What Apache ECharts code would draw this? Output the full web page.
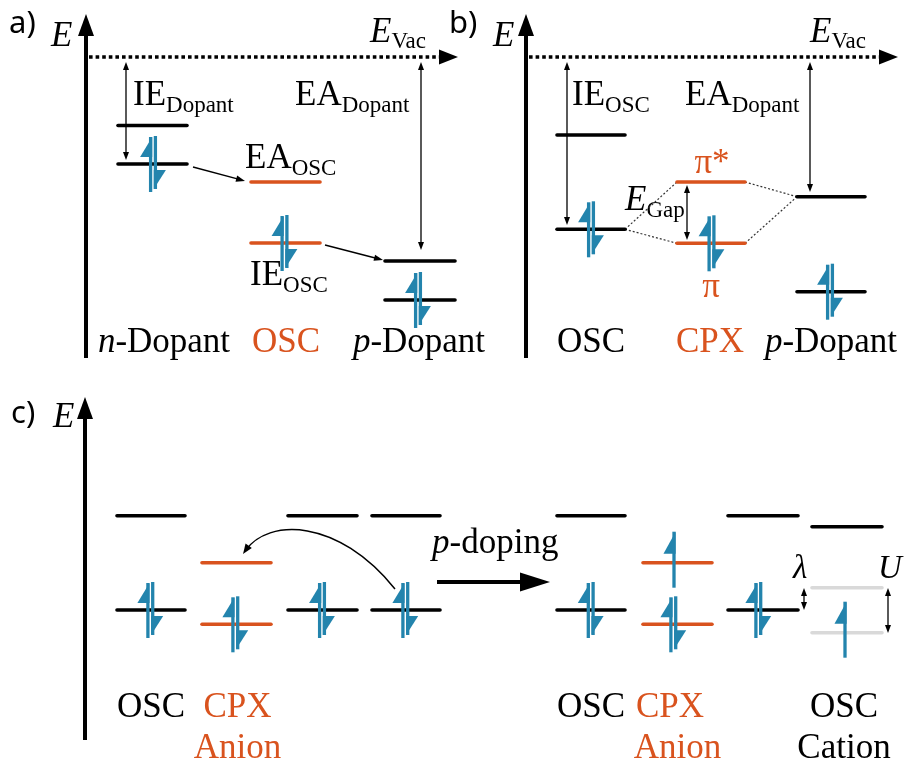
<!DOCTYPE html>
<html><head><meta charset="utf-8">
<script src="https://cdn.jsdelivr.net/npm/echarts@6/dist/echarts.min.js"></script>
<style>html,body{margin:0;padding:0;background:#fff}#c{width:909px;height:764px}</style>
</head><body><div id="c"></div>
<script>
// ---------------- Data (diagram units: x position, energy position measured downward) -------------
// energy levels [xStart, xEnd, E]
const levelsBlack = [
  [118,187,125.5],[118,187,164],[385,455,261],[385,455,300],
  [557,625,135],[557,625,229.3],[797,865,196.7],[797,865,291.7],
  [117,185,515.7],[117,185,610],[288,357,515.7],[288,357,610],[372,440,515.7],[372,440,610],
  [557,625,515.7],[557,625,610],[728,798,515.7],[728,798,610],[812,882,526.7]
];
const levelsOrange = [
  [251,320,182],[251,320,243],[677,745,182],[677,745,243.3],
  [202,271,562.7],[202,271,624.3],[643,712,562.7],[643,712,624.3]
];
const levelsGrey = [[812,882,587.7],[812,882,632.7]];
// electron pairs [x, E] and single spin-up electrons [x, E]
const electronPairs = [
  [153,164],[284.5,243],[418,300],[591,229.3],[711.5,243.3],[830,291.7],
  [150.3,610],[235.3,624.3],[322,610],[405.3,610],[590.7,610],[673.3,624.3],[758.3,610]
];
const electronsUp = [[674,562.7],[845,632.7]];
// double-headed thin arrows [x, E1, E2]
const doubleArrows = [[126,62,160],[421,62,250],[567,62,225],[810,62,192],[687,185,240],[804,588,610],[888,588,633]];
// single thin arrows [x1, E1, x2, E2]
const singleArrows = [[193,167,245,181],[325,245,383,260]];
// dotted correlation lines [x1, E1, x2, E2]
const dottedLinks = [[625,229.3,677,182],[625,229.3,677,243.3],[745,182,797,196.7],[745,243.3,797,196.7]];
// energy axes [x, Ebottom, Etop]
const energyAxes = [[86,358,14],[526,358,14],[85,740,397]];
// vacuum level lines [xStart, xEnd, E]
const vacuumLines = [[86,458,57],[526,898,57]];
// curved transfer arrow [x0,E0, c1x,c1E, c2x,c2E, x3,E3]
const curvedArrows = [[395,589,338,518,268,518,243,554]];
// thick process arrow [xStart, xEnd, E]
const processArrows = [[437,550,582]];

// ---------------- Styles -------------
const BLUE = '#2384AD', ORANGE = '#D9531E', GREY = '#D9D9D9', BLACK = '#000';
const SERIF = '"Liberation Serif"';

function tri(tip, dir, len, hw) { // dir unit vector pointing toward tip
  const bx = tip[0] - dir[0]*len, by = tip[1] - dir[1]*len;
  return [[tip[0],tip[1]],[bx - dir[1]*hw, by + dir[0]*hw],[bx + dir[1]*hw, by - dir[0]*hw]];
}
function unit(a, b) { const dx=b[0]-a[0], dy=b[1]-a[1], l=Math.hypot(dx,dy)||1; return [dx/l, dy/l]; }

function base(data, renderItem, z) {
  return {type:'custom', coordinateSystem:'cartesian2d', data, silent:true, clip:false, z:z||2,
    animation:false, renderItem};
}
function levelSeries(data, color) {
  return base(data, (p, api) => {
    const a = api.coord([api.value(0), api.value(2)]), b = api.coord([api.value(1), api.value(2)]);
    return {type:'line', shape:{x1:a[0],y1:a[1],x2:b[0],y2:b[1]}, style:{stroke:color, lineWidth:3.6, lineCap:'round'}};
  }, 2);
}
function upHarpoon(x, y, top, flag, bottom) {
  return [
    {type:'line', shape:{x1:x,y1:y+top,x2:x,y2:y+bottom}, style:{stroke:BLUE,lineWidth:3.3}},
    {type:'polygon', shape:{points:[[x+1.6,y+top],[x-10.5,y+flag],[x+1.6,y+flag]]}, style:{fill:BLUE}}
  ];
}
function downHarpoon(x, y, top, flag, bottom) {
  return [
    {type:'line', shape:{x1:x,y1:y+top,x2:x,y2:y+bottom}, style:{stroke:BLUE,lineWidth:3.3}},
    {type:'polygon', shape:{points:[[x-1.6,y+flag],[x+10.5,y+flag],[x-1.6,y+bottom]]}, style:{fill:BLUE}}
  ];
}
const pairSeries = base(electronPairs, (p, api) => {
  const c = api.coord([api.value(0), api.value(1)]);
  return {type:'group', children:[
    ...upHarpoon(c[0]-2.4, c[1], -27, -7, 28),
    ...downHarpoon(c[0]+2.4, c[1], -28, 6, 25)
  ]};
}, 5);
const upSeries = base(electronsUp, (p, api) => {
  const c = api.coord([api.value(0), api.value(1)]);
  return {type:'group', children: upHarpoon(c[0], c[1], -31, -9, 25)};
}, 5);
const doubleArrowSeries = base(doubleArrows, (p, api) => {
  const a = api.coord([api.value(0), api.value(1)]), b = api.coord([api.value(0), api.value(2)]);
  const d = unit(a, b);
  return {type:'group', children:[
    {type:'line', shape:{x1:a[0]+d[0]*5,y1:a[1]+d[1]*5,x2:b[0]-d[0]*5,y2:b[1]-d[1]*5}, style:{stroke:BLACK,lineWidth:1.3}},
    {type:'polygon', shape:{points:tri(b, d, 8, 3)}, style:{fill:BLACK}},
    {type:'polygon', shape:{points:tri(a, [-d[0],-d[1]], 8, 3)}, style:{fill:BLACK}}
  ]};
}, 4);
const singleArrowSeries = base(singleArrows, (p, api) => {
  const a = api.coord([api.value(0), api.value(1)]), b = api.coord([api.value(2), api.value(3)]);
  const d = unit(a, b);
  return {type:'group', children:[
    {type:'line', shape:{x1:a[0],y1:a[1],x2:b[0]-d[0]*5,y2:b[1]-d[1]*5}, style:{stroke:BLACK,lineWidth:1.3}},
    {type:'polygon', shape:{points:tri(b, d, 9, 3.2)}, style:{fill:BLACK}}
  ]};
}, 4);
const dottedSeries = base(dottedLinks, (p, api) => {
  const a = api.coord([api.value(0), api.value(1)]), b = api.coord([api.value(2), api.value(3)]);
  return {type:'line', shape:{x1:a[0],y1:a[1],x2:b[0],y2:b[1]}, style:{stroke:'#333',lineWidth:1.2,lineDash:[2,2]}};
}, 1);
const axisSeries = base(energyAxes, (p, api) => {
  const a = api.coord([api.value(0), api.value(1)]), b = api.coord([api.value(0), api.value(2)]);
  return {type:'group', children:[
    {type:'line', shape:{x1:a[0],y1:a[1],x2:b[0],y2:b[1]+18}, style:{stroke:BLACK,lineWidth:4}},
    {type:'polygon', shape:{points:tri(b, [0,-1], 22, 8)}, style:{fill:BLACK}}
  ]};
}, 3);
const vacSeries = base(vacuumLines, (p, api) => {
  const a = api.coord([api.value(0), api.value(2)]), b = api.coord([api.value(1), api.value(2)]);
  return {type:'group', children:[
    {type:'line', shape:{x1:a[0]+3,y1:a[1],x2:b[0]-18,y2:b[1]}, style:{stroke:BLACK,lineWidth:3.6,lineDash:[3.6,3]}},
    {type:'polygon', shape:{points:tri(b, [1,0], 19, 7.5)}, style:{fill:BLACK}}
  ]};
}, 3);
const curveSeries = base(curvedArrows, (p, api) => {
  const P = [0,2,4,6].map(i => api.coord([api.value(i), api.value(i+1)]));
  const d = unit(P[2], P[3]);
  return {type:'group', children:[
    {type:'bezierCurve', shape:{x1:P[0][0],y1:P[0][1],cpx1:P[1][0],cpy1:P[1][1],cpx2:P[2][0],cpy2:P[2][1],x2:P[3][0]-d[0]*4,y2:P[3][1]-d[1]*4}, style:{stroke:BLACK,lineWidth:1.5,fill:null}},
    {type:'polygon', shape:{points:tri(P[3], d, 10, 3.8)}, style:{fill:BLACK}}
  ]};
}, 4);
const processSeries = base(processArrows, (p, api) => {
  const a = api.coord([api.value(0), api.value(2)]), b = api.coord([api.value(1), api.value(2)]);
  return {type:'group', children:[
    {type:'line', shape:{x1:a[0],y1:a[1],x2:b[0]-25,y2:b[1]}, style:{stroke:BLACK,lineWidth:4.2}},
    {type:'polygon', shape:{points:tri(b, [1,0], 30, 9.5)}, style:{fill:BLACK}}
  ]};
}, 4);

// ---------------- Text -------------
const mctx = document.createElement('canvas').getContext('2d');
function fontStr(size, italic, fam) { return (italic ? 'italic ' : '') + size + 'px ' + (fam || SERIF); }
function measureW(t, f) { mctx.font = f; return mctx.measureText(t).width; }
function midToBase(f) {
  mctx.font = f; mctx.textBaseline = 'middle';
  const m = mctx.measureText('H'); mctx.textBaseline = 'alphabetic';
  if (m.alphabeticBaseline !== undefined && m.alphabeticBaseline !== 0) return Math.abs(m.alphabeticBaseline);
  return parseFloat(f.match(/(\d+(\.\d+)?)px/)[1]) * 0.34;
}
const graphics = [];
// parts: [text, size, italic, dyBaseline]
function label(x, baseline, parts, align, color, fam) {
  const fonts = parts.map(p => fontStr(p[1], p[2], fam));
  const widths = parts.map((p, i) => measureW(p[0], fonts[i]));
  const total = widths.reduce((s, w) => s + w, 0);
  let cx = align === 'center' ? x - total / 2 : x;
  parts.forEach((p, i) => {
    const yb = baseline + (p[3] || 0);
    graphics.push({type:'text', x: cx, y: yb - midToBase(fonts[i]), silent:true,
      style:{text:p[0], font:fonts[i], fill:color || BLACK, textAlign:'left', textVerticalAlign:'middle'}});
    cx += widths[i];
  });
}
const M = 35, S = 23;
const SANS = '"Noto Sans"';
label(9, 33, [['a)', 31, false]], 'left', BLACK, SANS);
label(449, 33, [['b)', 31, false]], 'left', BLACK, SANS);
label(11, 423, [['c)', 31, false]], 'left', BLACK, SANS);
label(51, 46, [['E', M, true]]);
label(493, 46, [['E', M, true]]);
label(53, 427, [['E', M, true]]);
label(370, 42, [['E', M, true], ['Vac', S, false, 6]]);
label(810, 42, [['E', M, true], ['Vac', S, false, 6]]);
label(133, 105, [['IE', M, false], ['Dopant', S, false, 7]]);
label(295, 105, [['EA', M, false], ['Dopant', S, false, 7]]);
label(245, 168, [['EA', M, false], ['OSC', S, false, 7]]);
label(250, 285, [['IE', M, false], ['OSC', S, false, 7]]);
label(572, 105, [['IE', M, false], ['OSC', S, false, 7]]);
label(685, 105, [['EA', M, false], ['Dopant', S, false, 7]]);
label(712, 173, [['π*', M, false]], 'center', ORANGE);
label(711, 297, [['π', M, false]], 'center', ORANGE);
label(625, 210, [['E', M, true], ['Gap', S, false, 7]]);
label(793, 578, [['λ', 33, true]]);
label(878, 578, [['U', 33, true]]);
label(432, 553, [['p', M, true], ['-doping', M, false]]);
label(164, 352, [['n', M, true], ['-Dopant', M, false]], 'center');
label(286, 352, [['OSC', M, false]], 'center', ORANGE);
label(419, 352, [['p', M, true], ['-Dopant', M, false]], 'center');
label(591, 352, [['OSC', M, false]], 'center');
label(710, 352, [['CPX', M, false]], 'center', ORANGE);
label(831, 352, [['p', M, true], ['-Dopant', M, false]], 'center');
label(151, 717, [['OSC', M, false]], 'center');
label(237.5, 717, [['CPX', M, false]], 'center', ORANGE);
label(237.5, 758, [['Anion', M, false]], 'center', ORANGE);
label(591, 717, [['OSC', M, false]], 'center');
label(670, 717, [['CPX', M, false]], 'center', ORANGE);
label(677.5, 758, [['Anion', M, false]], 'center', ORANGE);
label(844, 717, [['OSC', M, false]], 'center');
label(844, 758, [['Cation', M, false]], 'center');

const chart = echarts.init(document.getElementById('c'), null, {renderer:'canvas'});
chart.setOption({
  animation:false,
  backgroundColor:'#fff',
  grid:{left:0,right:0,top:0,bottom:0},
  xAxis:{type:'value', min:0, max:909, show:false},
  yAxis:{type:'value', min:0, max:764, inverse:true, show:false},
  series:[
    dottedSeries,
    levelSeries(levelsGrey, GREY),
    levelSeries(levelsBlack, BLACK),
    levelSeries(levelsOrange, ORANGE),
    axisSeries, vacSeries, doubleArrowSeries, singleArrowSeries, curveSeries, processSeries,
    pairSeries, upSeries
  ],
  graphic: graphics
});
</script></body></html>
